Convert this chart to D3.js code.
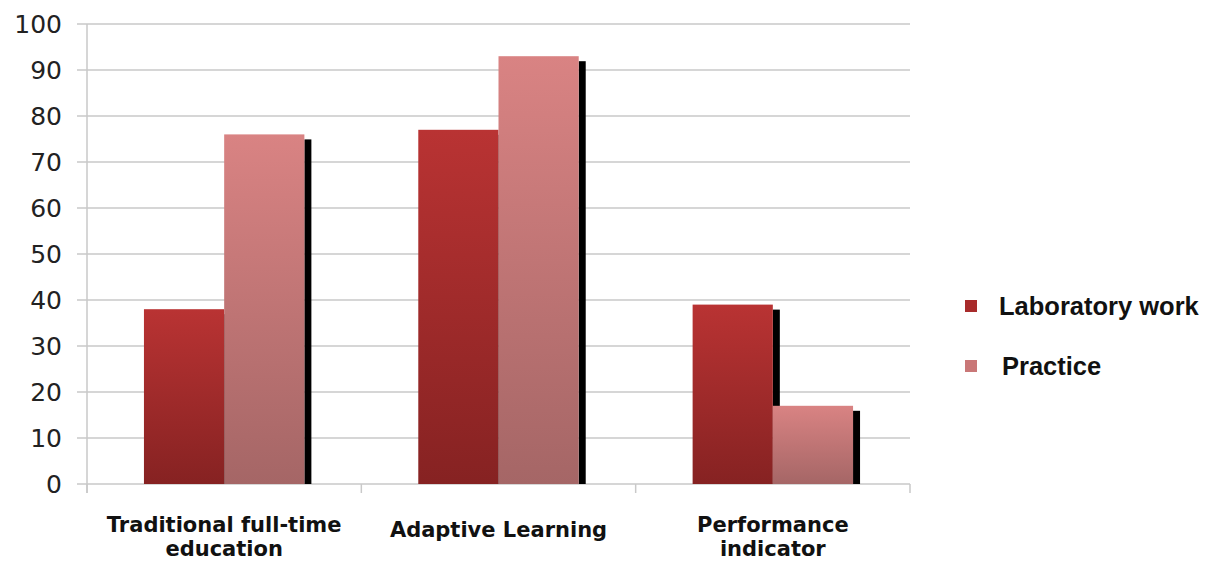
<!DOCTYPE html>
<html>
<head>
<meta charset="utf-8">
<script src="https://cdn.jsdelivr.net/npm/d3@7"></script>
<style>
  body { margin: 0; background: #fff; }
  .ytick text { font-family: "DejaVu Sans", sans-serif; font-size: 25px; fill: #222; }
  .cat text { font-family: "DejaVu Sans", sans-serif; font-weight: bold; font-size: 21px; fill: #111; }
  .legend text { font-family: "Liberation Sans", Arial, sans-serif; font-weight: bold; font-size: 25.5px; fill: #111; }
</style>
</head>
<body>
<div id="chart"></div>
<script>
// data
var categories = ["Traditional full-time education", "Adaptive Learning", "Performance indicator"];
var categoryLines = [["Traditional full-time", "education"], ["Adaptive Learning"], ["Performance", "indicator"]];
var seriesNames = ["Laboratory work", "Practice"];
var labWork = [38, 77, 39];
var practice = [76, 93, 17];
var yTicks = [0, 10, 20, 30, 40, 50, 60, 70, 80, 90, 100];

var svgWidth = 1205;
var svgHeight = 562;
var margin = { top: 24, right: 295, bottom: 78, left: 87 };
var width = svgWidth - margin.left - margin.right;
var height = svgHeight - margin.top - margin.bottom;

var svg = d3.select("#chart")
  .append("svg")
  .attr("width", svgWidth)
  .attr("height", svgHeight);

var defs = svg.append("defs");
function grad(id, top, bottom) {
  var g = defs.append("linearGradient").attr("id", id)
    .attr("x1", 0).attr("y1", 0).attr("x2", 0).attr("y2", 1);
  g.append("stop").attr("offset", "0%").attr("stop-color", top);
  g.append("stop").attr("offset", "100%").attr("stop-color", bottom);
}
grad("gLab", "#b93333", "#862222");
grad("gPrac", "#d98383", "#a56666");
var fills = ["url(#gLab)", "url(#gPrac)"];
var swatch = ["#a82b2b", "#c97777"];

var chartGroup = svg.append("g")
  .attr("transform", `translate(${margin.left}, ${margin.top})`);

var x0 = d3.scaleBand().domain(categories).range([0, width]).padding(0);
var x1 = d3.scaleBand().domain(seriesNames).range([0, x0.bandwidth()]).paddingOuter(0.71).paddingInner(0);
var y = d3.scaleLinear().domain([0, 100]).range([height, 0]);

// gridlines
chartGroup.append("g")
  .selectAll("line")
  .data(yTicks)
  .enter()
  .append("line")
  .attr("x1", -10)
  .attr("x2", width)
  .attr("y1", d => y(d))
  .attr("y2", d => y(d))
  .attr("stroke", "#c9c9c9")
  .attr("stroke-width", 1.5);

// y labels
var leftAxis = d3.axisLeft(y).tickValues(yTicks).tickSize(0).tickPadding(25);
var yAxisG = chartGroup.append("g").attr("class", "ytick").call(leftAxis);
yAxisG.select(".domain").remove();

// vertical axis line
chartGroup.append("line")
  .attr("x1", 0).attr("x2", 0)
  .attr("y1", y(100)).attr("y2", height + 9)
  .attr("stroke", "#c9c9c9").attr("stroke-width", 1.5);

// category tick marks at band boundaries
var bounds = categories.map(c => x0(c) + x0.bandwidth()).concat([0]);
chartGroup.append("g")
  .selectAll("line")
  .data(bounds)
  .enter()
  .append("line")
  .attr("x1", d => d).attr("x2", d => d)
  .attr("y1", height).attr("y2", height + 9)
  .attr("stroke", "#c9c9c9").attr("stroke-width", 1.5);

var rows = categories.map((c, i) => ({ cat: c, values: [labWork[i], practice[i]] }));

var groups = chartGroup.selectAll(".grp")
  .data(rows)
  .enter()
  .append("g")
  .attr("class", "grp")
  .attr("transform", d => `translate(${x0(d.cat)},0)`);

seriesNames.forEach(function(s, si) {
  // shadow behind
  groups.append("rect")
    .attr("x", d => x1(s) + x1.bandwidth())
    .attr("y", d => y(d.values[si]) + 5)
    .attr("width", 7)
    .attr("height", d => height - y(d.values[si]) - 5)
    .attr("fill", "#000");
});
seriesNames.forEach(function(s, si) {
  groups.append("rect")
    .attr("x", d => x1(s))
    .attr("y", d => y(d.values[si]))
    .attr("width", x1.bandwidth())
    .attr("height", d => height - y(d.values[si]))
    .attr("fill", fills[si]);
});

// category labels
var catG = chartGroup.append("g").attr("class", "cat");
categories.forEach(function(c, i) {
  var single = categoryLines[i].length === 1;
  var t = catG.append("text")
    .attr("text-anchor", "middle")
    .attr("x", x0(c) + x0.bandwidth() / 2)
    .attr("y", height + (single ? 53 : 48));
  categoryLines[i].forEach(function(line, li) {
    t.append("tspan")
      .attr("x", x0(c) + x0.bandwidth() / 2)
      .attr("dy", li === 0 ? 0 : 24)
      .text(line);
  });
});

// legend
var legend = svg.append("g").attr("class", "legend").attr("transform", "translate(965, 0)");
seriesNames.forEach(function(s, i) {
  legend.append("rect")
    .attr("x", 0).attr("y", 300 + i * 60)
    .attr("width", 12).attr("height", 12)
    .attr("fill", swatch[i]);
  legend.append("text")
    .attr("x", 34 + i * 3).attr("y", 315 + i * 60)
    .text(s);
});
</script>
</body>
</html>
